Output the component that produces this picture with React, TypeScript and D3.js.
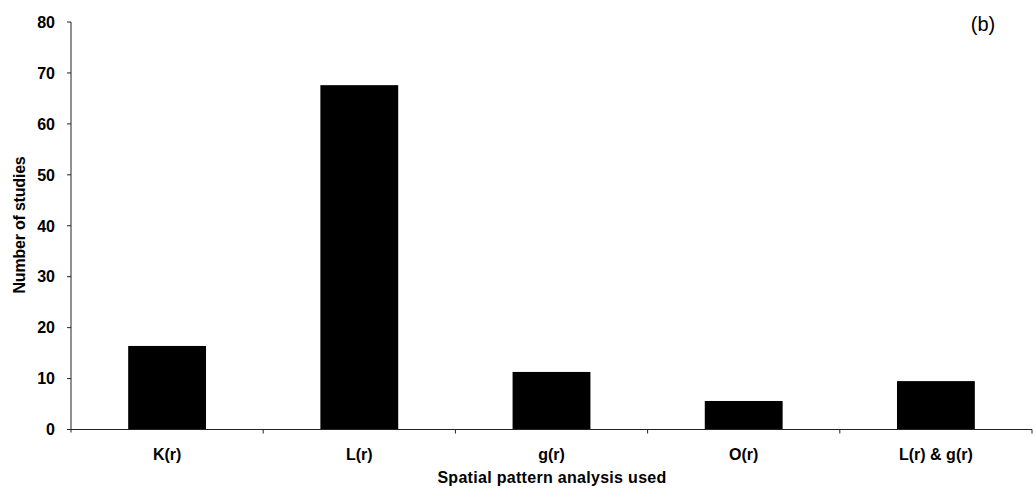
import React from "react";
import * as d3 from "d3";

const categories = ["K(r)", "L(r)", "g(r)", "O(r)", "L(r) & g(r)"];
const studies = [16.4, 67.6, 11.3, 5.6, 9.5];
const yTicks = [0, 10, 20, 30, 40, 50, 60, 70, 80];

const W = 1036;
const H = 498;
const FONT = "'Liberation Sans', Arial, sans-serif";

export default function App() {
  const x = d3
    .scaleBand<string>()
    .domain(categories)
    .range([71, 1032])
    .paddingInner(0.595)
    .paddingOuter(0.2975);
  const y = d3.scaleLinear().domain([0, 80]).range([429.5, 22]);
  const step = x.step();
  const x0 = 71;
  const boundaries = categories.map((_, i) => x0 + step * (i + 1));

  return (
    <svg
      width={W}
      height={H}
      style={{ position: "absolute", left: 0, top: 0, background: "#fff" }}
      fontFamily={FONT}
    >
      {/* bars */}
      {categories.map((c, i) => (
        <rect
          key={c}
          x={x(c)}
          y={y(studies[i])}
          width={x.bandwidth()}
          height={y(0) - y(studies[i])}
          fill="#000"
        />
      ))}
      {/* y axis */}
      <line x1={71} x2={71} y1={y(80)} y2={y(0) + 3} stroke="#222" strokeWidth={1} />
      {yTicks.map((t) => (
        <g key={t}>
          <line x1={67} x2={71} y1={y(t)} y2={y(t)} stroke="#222" strokeWidth={1} />
          <text
            x={55}
            y={y(t)}
            dy="0.36em"
            textAnchor="end"
            fontSize={16}
            fontWeight="bold"
            fill="#000"
          >
            {t}
          </text>
        </g>
      ))}
      {/* x axis */}
      <line x1={71} x2={1032} y1={y(0)} y2={y(0)} stroke="#222" strokeWidth={1} />
      {boundaries.map((b, i) => (
        <line key={i} x1={b} x2={b} y1={y(0)} y2={y(0) + 4} stroke="#222" strokeWidth={1} />
      ))}
      {categories.map((c) => (
        <text
          key={c}
          x={(x(c) as number) + x.bandwidth() / 2}
          y={460}
          textAnchor="middle"
          fontSize={16}
          fill="#000"
          style={{ fontWeight: 600 }}
        >
          {c}
        </text>
      ))}
      <text
        x={552}
        y={483}
        textAnchor="middle"
        fontSize={16}
        fontWeight="bold"
        fill="#000"
        letterSpacing={0.3}
      >
        Spatial pattern analysis used
      </text>
      <text
        transform={`translate(25,225) rotate(-90)`}
        textAnchor="middle"
        fontSize={16}
        fontWeight="bold"
        fill="#000"
        letterSpacing={-0.2}
      >
        Number of studies
      </text>
      <text x={983} y={31} textAnchor="middle" fontSize={20} fill="#000">
        (b)
      </text>
    </svg>
  );
}
